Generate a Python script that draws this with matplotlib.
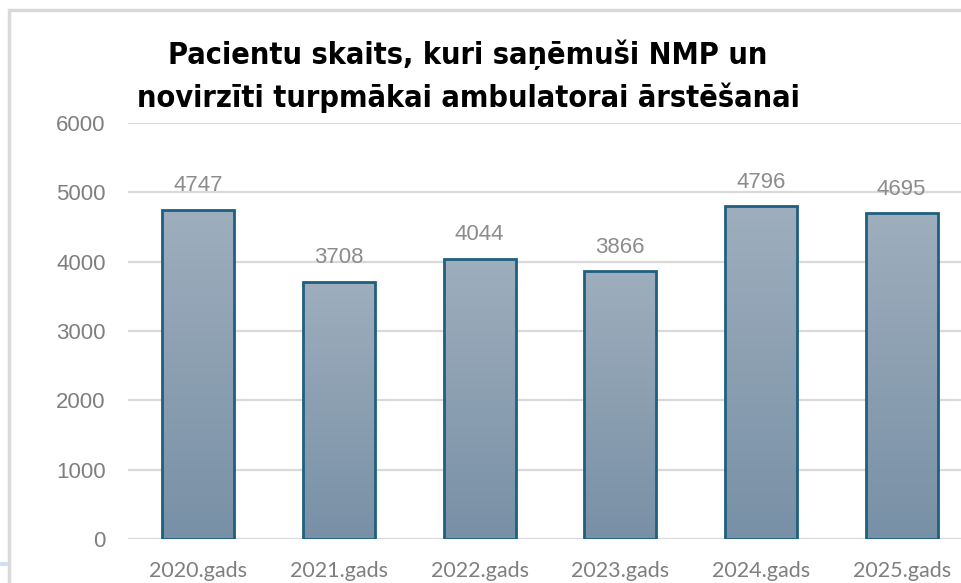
import matplotlib
matplotlib.use("Agg")
import matplotlib.pyplot as plt
import numpy as np
from matplotlib.patches import Rectangle
from matplotlib.colors import LinearSegmentedColormap

categories = ["2020.gads", "2021.gads", "2022.gads", "2023.gads", "2024.gads", "2025.gads"]
values = [4747, 3708, 4044, 3866, 4796, 4695]
yticks = [0, 1000, 2000, 3000, 4000, 5000, 6000]
title = "Pacientu skaits, kuri saņēmuši NMP un\nnovirzīti turpmākai ambulatorai ārstēšanai"

W, H = 961, 583
fig = plt.figure(figsize=(W / 100, H / 100), dpi=100)

# outer frame
fig.add_artist(Rectangle((9 / W, -0.1), 1.2, (H - 10) / H + 0.1, transform=fig.transFigure,
                         fill=False, edgecolor="#d9d9d9", linewidth=2.5))
fig.add_artist(Rectangle((0, (H - 566) / H), 8 / W, 4 / H, transform=fig.transFigure,
                         facecolor="#cfe0f3", edgecolor="none"))

ax_left, ax_right = 128, 972
ax_top, ax_bot = 123, 539
ax = fig.add_axes([ax_left / W, (H - ax_bot) / H, (ax_right - ax_left) / W, (ax_bot - ax_top) / H])
ax.set_clip_on(False)

for s in ax.spines.values():
    s.set_visible(False)
ax.set_yticks(yticks)
ax.set_yticklabels([str(t) for t in yticks], fontsize=16, color="#7f7f7f", family="Liberation Sans")
ax.tick_params(axis="y", length=0, pad=16)
ax.set_xticks(range(len(categories)))
ax.set_xticklabels(categories, fontsize=15.5, color="#7f7f7f", family="Lato")
ax.tick_params(axis="x", length=0, pad=16)
ax.yaxis.grid(True, color="#d9d9d9", linewidth=1.6)
ax.set_axisbelow(True)

bars = ax.bar(range(len(categories)), values, width=0.51, facecolor="none",
              edgecolor="#1f5f80", linewidth=2.0, zorder=3)

grad = np.linspace(0, 1, 256).reshape(-1, 1)
cmap = LinearSegmentedColormap.from_list("g", ["#7890a6", "#9eaebd"])
for b in bars:
    x0, w, h = b.get_x(), b.get_width(), b.get_height()
    im = ax.imshow(grad, extent=[x0, x0 + w, 0, h], origin="lower", cmap=cmap,
                   aspect="auto", zorder=2)
    im.set_clip_path(b)
    ax.text(x0 + w / 2, h + 345, str(int(h)), ha="center", va="center",
            fontsize=16, color="#8c8c8c", family="Liberation Sans", zorder=4)
ax.set_xlim(-0.5, len(categories) - 0.5)
ax.set_ylim(0, 6000)

fig.text(468 / W, (H - 76) / H, title, ha="center", va="center", fontsize=22,
         fontweight="bold", fontstretch="condensed", family="DejaVu Sans",
         color="#000000", linespacing=1.5)

fig.savefig("out.png", dpi=100)
